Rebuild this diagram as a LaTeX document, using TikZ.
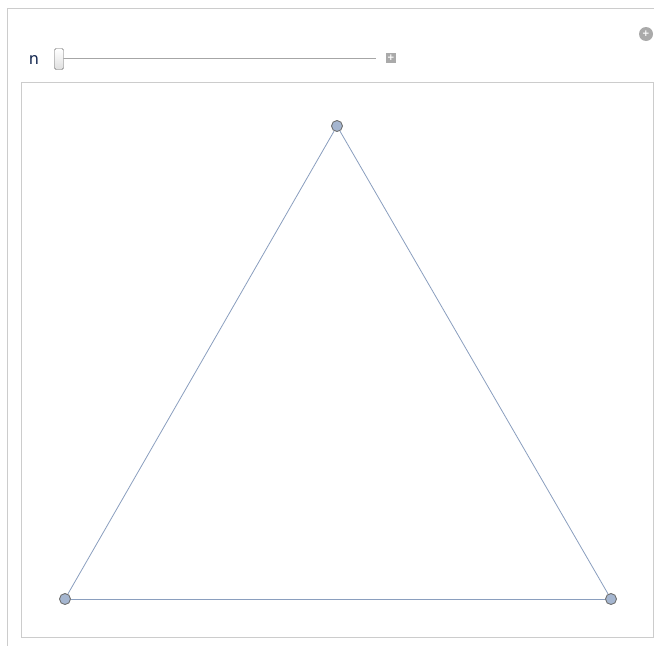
\documentclass[tikz,border=0pt]{standalone}
\usepackage{tikz}
\usetikzlibrary{positioning,calc}
\usepackage{fontspec}
\setmainfont{DejaVu Sans}
\usepackage{xcolor}
\definecolor{framegray}{RGB}{204,204,204}
\definecolor{edgeblue}{RGB}{138,158,190}
\definecolor{vertfill}{RGB}{165,182,208}
\definecolor{vertline}{RGB}{112,112,112}
\definecolor{btngray}{RGB}{170,170,170}
\definecolor{labelblue}{RGB}{20,40,80}

\begin{document}
\begin{tikzpicture}[x=1pt,y=-1pt,
    vert/.style={circle,draw=vertline,fill=vertfill,line width=0.9pt,minimum size=11pt,inner sep=0pt},
    edge/.style={draw=edgeblue,line width=0.8pt},
    frame/.style={draw=framegray,line width=1pt}]
    \useasboundingbox (0,0) rectangle (654,646);
    % outer panel and plot area
    \draw[frame] (654,8) -- (7,8) -- (7,646);
    \draw[frame] (21,82) rectangle (653,637);
    % slider
    \node[font=\fontsize{16}{18}\selectfont,text=labelblue,inner sep=0pt,anchor=base] (nlabel) at (34,64) {n};
    \draw[draw=gray!70,line width=0.8pt] (63,58) -- (376,58);
    \node[draw=gray!80!black,rounded corners=1.5pt,top color=white,bottom color=gray!25,
          minimum width=9pt,minimum height=21pt,inner sep=0pt] (thumb) at (59,59) {};
    \node[fill=btngray,minimum size=10pt,inner sep=0pt,text=white,font=\bfseries\small] (plus) at (391,58) {+};
    \node[circle,fill=btngray,minimum size=14pt,inner sep=0pt,text=white,font=\bfseries\small] (more) at (646,34) {+};
    % triangle
    \node[vert] (top) at (337,126) {};
    \node[vert] (left) at (65,599) {};
    \node[vert] (right) at (611,599) {};
    \draw[edge] (top) -- (left);
    \draw[edge] (left) -- (right);
    \draw[edge] (right) -- (top);
\end{tikzpicture}
\end{document}
